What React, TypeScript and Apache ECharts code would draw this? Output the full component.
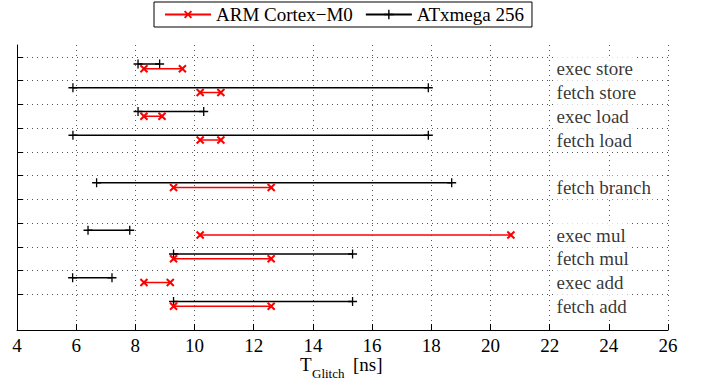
import React, { useEffect, useRef } from "react";
import * as echarts from "echarts";

// ---- data ----
const categories = ["exec store", "fetch store", "exec load", "fetch load", "fetch branch", "exec mul", "fetch mul", "exec add", "fetch add"];
const rowSlots = [0, 1, 2, 3, 5, 7, 8, 9, 10];
const armMin = [8.29, 10.19, 8.29, 10.19, 9.29, 10.19, 9.29, 8.29, 9.29];
const armMax = [9.59, 10.89, 8.9, 10.89, 12.59, 20.69, 12.59, 9.18, 12.59];
const avrMin = [8.09, 5.89, 8.09, 5.89, 6.69, 6.4, 9.29, 5.88, 9.29];
const avrMax = [8.82, 17.9, 10.31, 17.9, 18.69, 7.81, 15.34, 7.21, 15.34];
const gridRows = [0, 1, 2, 3, 4, 5, 6, 7, 8, 9, 10];
const xMin = 4;
const xMax = 26;
const xStep = 2;
const armName = "ARM Cortex\u2212M0";
const avrName = "ATxmega 256";

const FONT = "Liberation Serif";
const plusPath = "path://M-0.65,-4.5H0.65V-0.65H4.5V0.65H0.65V4.5H-0.65V0.65H-4.5V-0.65H-0.65Z";
const crossPath = "path://M-0.9,-4.5H0.9V-0.9H4.5V0.9H0.9V4.5H-0.9V0.9H-4.5V-0.9H-0.9Z";

export default function App() {
  const ref = useRef<HTMLDivElement>(null);
  useEffect(() => {
    if (!ref.current) return;
    const chart = echarts.init(ref.current, undefined, { renderer: "svg" });
    const series: any[] = [];
    series.push({
      type: "line",
      data: [],
      z: 1,
      silent: true,
      markLine: {
        silent: true,
        symbol: ["none", "none"],
        label: { show: false },
        animation: false,
        lineStyle: { type: [1, 4], color: "#555", width: 1 },
        emphasis: { disabled: true },
        data: gridRows.map((r) => ({ yAxis: r })),
      },
    });
    series.push({
      type: "line",
      data: [],
      z: 1,
      silent: true,
      markLine: {
        silent: true,
        symbol: ["none", "none"],
        label: { show: false },
        animation: false,
        lineStyle: { type: "solid", color: "#000", width: 1 },
        emphasis: { disabled: true },
        data: gridRows.map((r) => [{ coord: [xMin, r] }, { coord: [xMin + 0.21, r] }]),
      },
    });
    rowSlots.forEach((slot, i) => {
      series.push({
        name: avrName,
        type: "line",
        z: 3,
        data: [
          [avrMin[i], slot + 0.3],
          [avrMax[i], slot + 0.3],
        ],
        symbol: plusPath,
        symbolSize: 9,
        lineStyle: { color: "#000", width: 1.5 },
        itemStyle: { color: "#000" },
        silent: true,
      });
      series.push({
        name: armName,
        type: "line",
        z: 4,
        data: [
          [armMin[i], slot + 0.5],
          [armMax[i], slot + 0.5],
        ],
        symbol: crossPath,
        symbolRotate: 45,
        symbolSize: 10,
        lineStyle: { color: "#ff0000", width: 1.5 },
        itemStyle: { color: "#ff0000" },
        silent: true,
      });
    });
    series.push({
      type: "scatter",
      z: 10,
      silent: true,
      symbolSize: 1,
      itemStyle: { color: "rgba(0,0,0,0)" },
      data: rowSlots.map((slot, i) => ({ value: [22.15, slot + 0.5], name: categories[i] })),
      label: {
        show: true,
        position: "right",
        distance: 0,
        formatter: "{b}",
        fontSize: 19,
        fontFamily: FONT,
        color: "#000",
        backgroundColor: "#fff",
        padding: [3, 2, 2, 2],
      },
    });

    chart.setOption({
      animation: false,
      textStyle: { fontFamily: FONT },
      grid: { left: 17, right: 36, top: 45, bottom: 56 },
      legend: {
        data: [{ name: armName }, { name: avrName }],
        left: 154,
        top: 2,
        orient: "horizontal",
        itemWidth: 46,
        itemHeight: 12,
        itemGap: 12,
        padding: [3, 8, 3, 10],
        borderColor: "#000",
        borderWidth: 1,
        textStyle: { fontSize: 19, fontFamily: FONT, color: "#000" },
        selectedMode: false,
      },
      xAxis: {
        type: "value",
        min: xMin,
        max: xMax,
        interval: xStep,
        axisLine: { show: true, onZero: false, lineStyle: { color: "#000", width: 1 } },
        axisTick: { show: true, inside: true, length: 6, lineStyle: { color: "#000" } },
        axisLabel: { fontSize: 19, fontFamily: FONT, color: "#000", margin: 6 },
        splitLine: { show: true, lineStyle: { type: [1, 4], color: "#555", width: 1 } },
      },
      yAxis: {
        type: "value",
        inverse: true,
        min: -0.5,
        max: 11.5,
        axisLine: { show: true, onZero: false, lineStyle: { color: "#000", width: 1 } },
        axisTick: { show: false },
        axisLabel: { show: false },
        splitLine: { show: false },
      },
      graphic: [
        { type: "text", left: 300, top: 355, style: { text: "T", fontSize: 19, fontFamily: FONT, fill: "#000" } },
        { type: "text", left: 312, top: 367, style: { text: "Glitch", fontSize: 13, fontFamily: FONT, fill: "#000" } },
        { type: "text", left: 353, top: 355, style: { text: "[ns]", fontSize: 19, fontFamily: FONT, fill: "#000" } },
      ],
      series,
    });
    return () => chart.dispose();
  }, []);
  return (
    <div
      ref={ref}
      style={{ position: "absolute", left: 0, top: 0, width: 704, height: 386, background: "#fff" }}
    />
  );
}
